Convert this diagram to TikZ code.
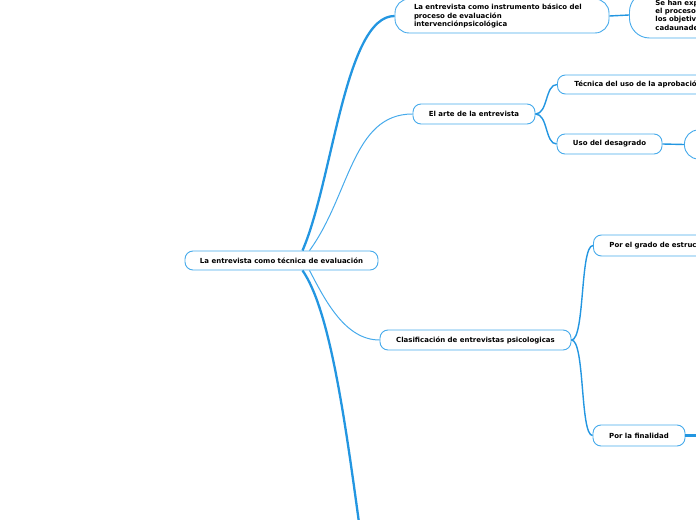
\documentclass[tikz,border=0pt]{standalone}
\usepackage{fontspec}
\setmainfont{DejaVu Sans}
\definecolor{edge}{RGB}{35,150,225}
\definecolor{edgelight}{RGB}{70,170,235}
\definecolor{border}{RGB}{70,170,235}
\begin{document}
\begin{tikzpicture}[x=1bp,y=-1bp,
  box/.style={draw=border,line width=0.9bp,fill=white,rounded corners=8bp,inner sep=0pt,
    font=\fontsize{7}{8.4}\selectfont\bfseries,text=black},
  thickedge/.style={draw=edge,line width=2.3bp},
  thinedge/.style={draw=edgelight,line width=1bp},
  midedge/.style={draw=edge,line width=1.4bp}]
\useasboundingbox (0,0) rectangle (696,520);
\clip (0,0) rectangle (696,520);
\coordinate (down) at (360,530);
\coordinate (finchild) at (700,435.5);
% nodes
\node[box,minimum width=193bp,minimum height=19bp] (ctr) at (281.5,260.5) {La entrevista como técnica de evaluación};
\node[box,rounded corners=14bp,minimum width=214bp,minimum height=34bp,text width=176bp,align=left] (A) at (502,16) {La entrevista como instrumento básico del\\proceso de evaluación\\intervenciónpsicológica};
\node[box,rounded corners=20bp,anchor=west,minimum width=120bp,minimum height=46bp,text width=68bp,align=left] (TR) at (629,15) {Se han exp\\el proceso\\los objetiv\\cadaunade};
\node[box,minimum width=122bp,minimum height=20bp] (B) at (474,114) {El arte de la entrevista};
\node[box,anchor=west,minimum width=194bp,minimum height=19bp,text width=160bp,align=left] (Tec) at (557,84.5) {Técnica del uso de la aprobació};
\node[box,minimum width=105bp,minimum height=20bp] (Uso) at (609.5,144) {Uso del desagrado};
\node[box,rounded corners=14bp,anchor=west,minimum width=60bp,minimum height=29bp] (R) at (684,144.5) {};
\node[box,minimum width=191bp,minimum height=20bp] (C) at (475.5,340) {Clasificación de entrevistas psicologicas};
\node[box,anchor=west,minimum width=152bp,minimum height=21bp,text width=120bp,align=left] (Gr) at (593,245.5) {Por el grado de estruc};
\node[box,minimum width=92bp,minimum height=21bp] (Fin) at (639,435.5) {Por la finalidad};
% connectors
\draw[thickedge] ([xshift=21bp]ctr.north) .. controls (333,180) and (345,16) .. (A.west);
\draw[thinedge] ([xshift=28bp]ctr.north) .. controls (350,195) and (352,114) .. (B.west);
\draw[thinedge] ([xshift=28bp]ctr.south) .. controls (325,300) and (345,340) .. (C.west);
\draw[thickedge] ([xshift=21bp]ctr.south) .. controls (330,310) and (345,420) .. (down);
\draw[midedge] (A.east) -- (TR.west);
\draw[midedge] (B.east) .. controls (548,114) and (545,84.5) .. (Tec.west);
\draw[midedge] (B.east) .. controls (548,114) and (545,144) .. (Uso.west);
\draw[midedge] (Uso.east) -- (R.west);
\draw[midedge] (C.east) .. controls (585,340) and (580,245.5) .. (Gr.west);
\draw[midedge] (C.east) .. controls (585,340) and (580,435.5) .. (Fin.west);
\draw[thickedge] (Fin.east) -- (finchild);
\end{tikzpicture}
\end{document}
